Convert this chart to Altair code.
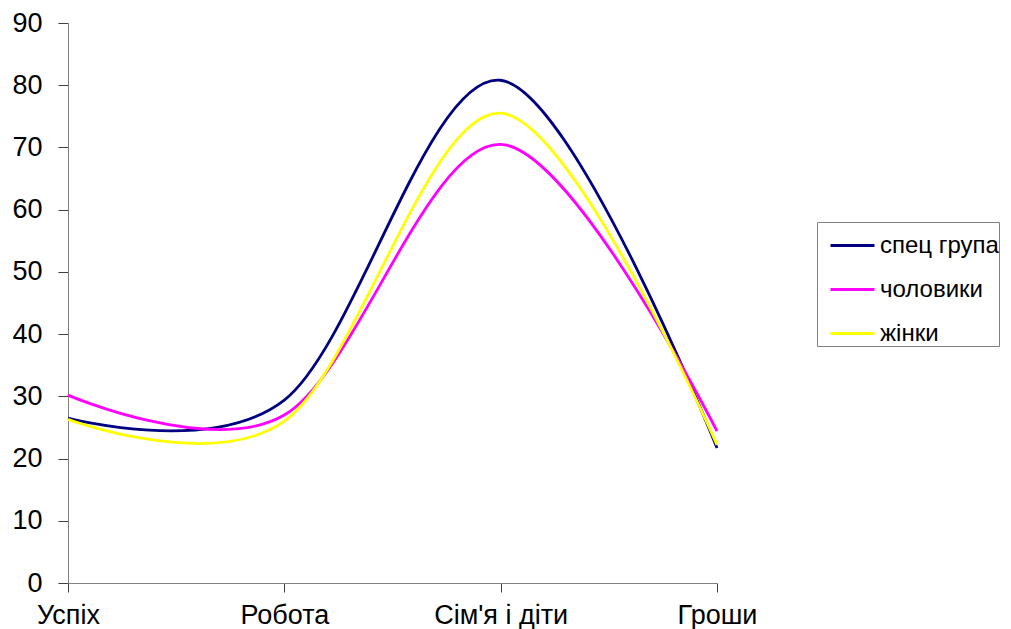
import altair as alt
import pandas as pd

categories = ["Успіх", "Робота", "Сім'я і діти", "Гроши"]
series_names = ["спец група", "чоловики", "жінки"]
spec_group = [26.5, 29.4, 80.8, 21.7]
men = [30.2, 27.0, 70.5, 24.4]
women = [26.3, 26.0, 75.5, 22.2]
colors = ["#000080", "#FF00FF", "#FFFF00"]

rows = []
for name, vals in zip(series_names, [spec_group, men, women]):
    for c, v in zip(categories, vals):
        rows.append({"cat": c, "series": name, "value": v})
df = pd.DataFrame(rows)

chart = alt.Chart(df).mark_line(interpolate="cardinal", tension=0, strokeWidth=2.8).encode(
    x=alt.X("cat:N", sort=categories, scale=alt.Scale(type="point", padding=0),
            axis=alt.Axis(title=None, labelAngle=0, labelFontSize=27, labelFont="Liberation Sans",
                          labelColor="black", domainColor="#808080", tickColor="#404040",
                          tickSize=9, labelPadding=10, grid=False)),
    y=alt.Y("value:Q", scale=alt.Scale(domain=[0, 90], nice=False),
            axis=alt.Axis(title=None, values=list(range(0, 91, 10)), labelFontSize=27,
                          labelFont="Liberation Sans", labelColor="black", domainColor="#808080",
                          tickColor="#404040", tickSize=10, labelPadding=16, grid=False)),
    color=alt.Color("series:N", sort=series_names,
                    scale=alt.Scale(domain=series_names, range=colors),
                    legend=alt.Legend(title=None, orient="none", legendX=749, legendY=199,
                                      symbolType="stroke", symbolSize=1936, symbolStrokeWidth=2.8,
                                      symbolOffset=12,
                                      labelFontSize=24, labelFont="Liberation Sans", labelColor="black",
                                      strokeColor="#808080", padding=0, rowPadding=8,
                                      labelOffset=4, fillColor="white")),
).properties(
    width=649, height=560,
    autosize=alt.AutoSizeParams(type="none"),
    padding={"left": 60, "top": 15, "right": 286, "bottom": 48},
).configure_view(stroke=None)

chart.save("out.html", embed_options={"renderer": "svg", "actions": False})
